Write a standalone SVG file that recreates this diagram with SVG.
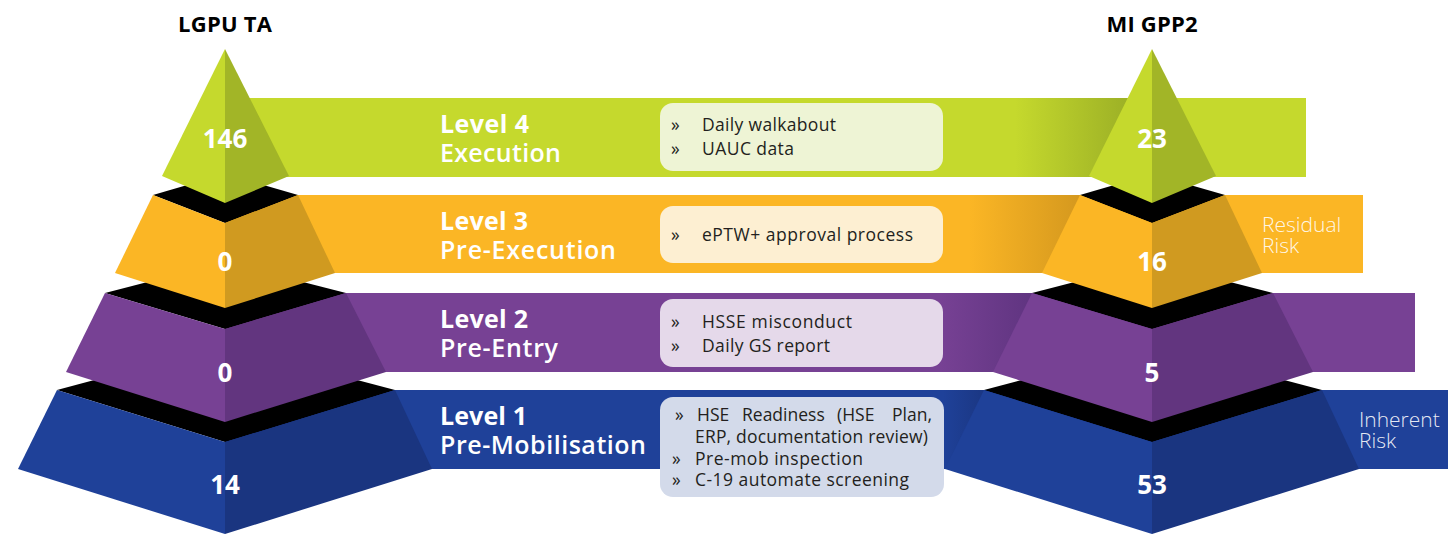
<svg xmlns="http://www.w3.org/2000/svg" xmlns:xlink="http://www.w3.org/1999/xlink" width="1448" height="534" viewBox="0 0 1448 534">
<style>
.title{font-family:"Open Sans","Liberation Sans",sans-serif;font-weight:700;font-size:22px;fill:#000;text-anchor:middle}
.num{font-family:"Open Sans","Liberation Sans",sans-serif;font-weight:700;font-size:26px;fill:#fff;text-anchor:middle}
.lvl{font-family:"Open Sans","Liberation Sans",sans-serif;font-size:25px;fill:#fff}
.b{font-weight:700}
.m{font-weight:600}
.bx{font-family:"Open Sans","Liberation Sans",sans-serif;font-size:17.5px;fill:#231f20}
.risk{font-family:"Open Sans","Liberation Sans",sans-serif;font-weight:300;font-size:21px;fill:#fff;fill-opacity:0.9}
.blk{fill:#000}
</style>
<defs>
<linearGradient id="gG" x1="0" y1="0" x2="1" y2="0"><stop offset="0" stop-color="#c5d92d"/><stop offset="1" stop-color="#9cb026"/></linearGradient>
<linearGradient id="gO" x1="0" y1="0" x2="1" y2="0"><stop offset="0" stop-color="#fbb625"/><stop offset="1" stop-color="#d3971e"/></linearGradient>
<linearGradient id="gP" x1="0" y1="0" x2="1" y2="0"><stop offset="0" stop-color="#774194"/><stop offset="1" stop-color="#5f3480"/></linearGradient>
<linearGradient id="gB" x1="0" y1="0" x2="1" y2="0"><stop offset="0" stop-color="#1f4199"/><stop offset="1" stop-color="#1a3580"/></linearGradient>
<g id="pyr">
  <path class="blk" d="M57,390 L225,345 L395,390 L225,442 Z"/>
  <path fill="#1f4199" d="M57,390 L225,442 L225,534 L18,469 Z"/>
  <path fill="#1a3580" d="M395,390 L225,442 L225,534 L432,469 Z"/>
  <path class="blk" d="M105,293 L225,262 L346,293 L225,329 Z"/>
  <path fill="#774194" d="M105,293 L225,329 L225,422 L66,372 Z"/>
  <path fill="#62357f" d="M346,293 L225,329 L225,422 L386,372 Z"/>
  <path class="blk" d="M153,195 L225,174 L298,195 L225,223 Z"/>
  <path fill="#fbb625" d="M153,195 L225,223 L225,308 L115,273 Z"/>
  <path fill="#d09a20" d="M298,195 L225,223 L225,308 L335,273 Z"/>
  <path fill="#c5d92d" d="M225,49 L162,176 L225,203 Z"/>
  <path fill="#a2b527" d="M225,49 L289,176 L225,203 Z"/>
</g>
</defs>
<rect width="1448" height="534" fill="#fff"/>

<g id="band-level4">
  <rect x="225" y="98" width="1081" height="79" fill="#c5d92d"/>
  <rect x="1015" y="98" width="115" height="79" fill="url(#gG)"/>
</g>
<g id="band-level3">
  <rect x="225" y="195" width="1138" height="78" fill="#fbb625"/>
  <rect x="970" y="195" width="115" height="78" fill="url(#gO)"/>
</g>
<g id="band-level2">
  <rect x="225" y="293" width="1190" height="79" fill="#774194"/>
  <rect x="940" y="293" width="95" height="79" fill="url(#gP)"/>
</g>
<g id="band-level1">
  <rect x="225" y="390" width="1223" height="79" fill="#1f4199"/>
  <rect x="943" y="390" width="47" height="79" fill="url(#gB)"/>
</g>

<g id="pyramid-lgpu">
  <use xlink:href="#pyr" href="#pyr"/>
  <text class="title" x="225" y="32" textLength="94">LGPU TA</text>
  <text class="num" x="225" y="148">146</text>
  <text class="num" x="225" y="271">0</text>
  <text class="num" x="225" y="382">0</text>
  <text class="num" x="225" y="494">14</text>
</g>
<g id="pyramid-migpp2">
  <use xlink:href="#pyr" href="#pyr" x="927"/>
  <text class="title" x="1152" y="32" textLength="91">MI GPP2</text>
  <text class="num" x="1152" y="148">23</text>
  <text class="num" x="1152" y="271">16</text>
  <text class="num" x="1152" y="382">5</text>
  <text class="num" x="1152" y="494">53</text>
</g>

<g id="label-level4">
  <text class="lvl"><tspan class="b" x="440" y="133" textLength="89">Level 4</tspan><tspan class="m" x="440" y="162" textLength="121">Execution</tspan></text>
</g>
<g id="label-level3">
  <text class="lvl"><tspan class="b" x="440" y="230" textLength="88">Level 3</tspan><tspan class="m" x="440" y="259" textLength="176">Pre-Execution</tspan></text>
</g>
<g id="label-level2">
  <text class="lvl"><tspan class="b" x="440" y="328" textLength="88">Level 2</tspan><tspan class="m" x="440" y="357" textLength="118">Pre-Entry</tspan></text>
</g>
<g id="label-level1">
  <text class="lvl"><tspan class="b" x="440" y="425" textLength="87">Level 1</tspan><tspan class="m" x="440" y="454" textLength="206">Pre-Mobilisation</tspan></text>
</g>

<g id="box-level4">
  <rect x="660" y="103" width="283" height="68" rx="13" fill="#eef4d5"/>
  <text class="bx" x="671" y="131">»</text>
  <text class="bx" x="702" y="131" textLength="134">Daily walkabout</text>
  <text class="bx" x="671" y="155">»</text>
  <text class="bx" x="702" y="155" textLength="92">UAUC data</text>
</g>
<g id="box-level3">
  <rect x="660" y="206" width="283" height="57" rx="13" fill="#fdefd2"/>
  <text class="bx" x="671" y="241">»</text>
  <text class="bx" x="702" y="241" textLength="211">ePTW+ approval process</text>
</g>
<g id="box-level2">
  <rect x="660" y="299" width="283" height="68" rx="13" fill="#e5d9ea"/>
  <text class="bx" x="671" y="328">»</text>
  <text class="bx" x="702" y="328" textLength="150">HSSE misconduct</text>
  <text class="bx" x="671" y="352">»</text>
  <text class="bx" x="702" y="352" textLength="128">Daily GS report</text>
</g>
<g id="box-level1">
  <rect x="660" y="397" width="284" height="100" rx="13" fill="#d3daea"/>
  <text class="bx" x="675" y="421">»</text>
  <text class="bx" y="421"><tspan x="697">HSE</tspan><tspan x="742">Readiness</tspan><tspan x="837">(HSE</tspan><tspan x="892">Plan,</tspan></text>
  <text class="bx" x="695" y="443" textLength="233">ERP, documentation review)</text>
  <text class="bx" x="672" y="465">»</text>
  <text class="bx" x="695" y="465" textLength="168">Pre-mob inspection</text>
  <text class="bx" x="672" y="486">»</text>
  <text class="bx" x="695" y="486" textLength="214">C-19 automate screening</text>
</g>

<g id="label-residual">
  <text class="risk"><tspan x="1262" y="232">Residual</tspan><tspan x="1262" y="253">Risk</tspan></text>
</g>
<g id="label-inherent">
  <text class="risk"><tspan x="1359" y="427">Inherent</tspan><tspan x="1359" y="448">Risk</tspan></text>
</g>
</svg>
